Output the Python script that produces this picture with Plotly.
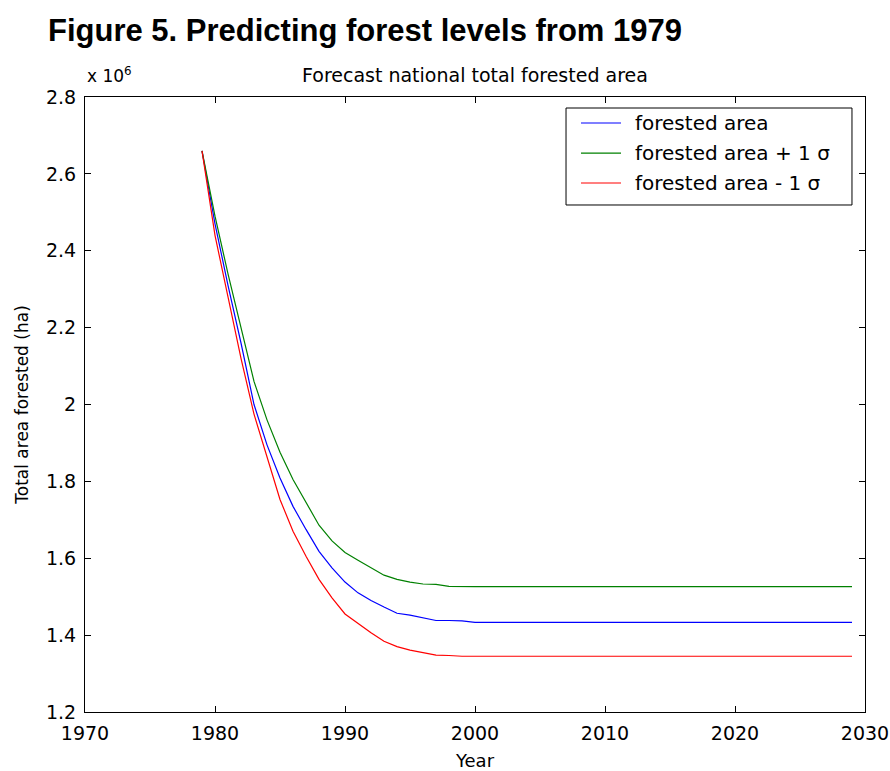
import plotly.graph_objects as go

years = list(range(1979, 2030))

# forested area, in units of 10^6 ha
forested = [2.660, 2.470, 2.310, 2.160, 2.000, 1.895, 1.809, 1.735, 1.675, 1.618,
            1.575, 1.538, 1.510, 1.490, 1.473, 1.457, 1.452, 1.445, 1.438, 1.438,
            1.437, 1.433, 1.433, 1.433, 1.433, 1.433, 1.433, 1.433, 1.433, 1.433,
            1.433, 1.433, 1.433, 1.433, 1.433, 1.433, 1.433, 1.433, 1.433, 1.433,
            1.433, 1.433, 1.433, 1.433, 1.433, 1.433, 1.433, 1.433, 1.433, 1.433,
            1.433]
plus_sigma = [2.660, 2.490, 2.340, 2.200, 2.060, 1.960, 1.876, 1.805, 1.745, 1.686,
              1.645, 1.615, 1.595, 1.575, 1.556, 1.545, 1.538, 1.533, 1.532, 1.527,
              1.526, 1.526, 1.526, 1.526, 1.526, 1.526, 1.526, 1.526, 1.526, 1.526,
              1.526, 1.526, 1.526, 1.526, 1.526, 1.526, 1.526, 1.526, 1.526, 1.526,
              1.526, 1.526, 1.526, 1.526, 1.526, 1.526, 1.526, 1.526, 1.526, 1.526,
              1.526]
minus_sigma = [2.660, 2.440, 2.280, 2.120, 1.975, 1.863, 1.753, 1.670, 1.605, 1.545,
               1.497, 1.455, 1.430, 1.406, 1.384, 1.370, 1.361, 1.354, 1.348, 1.347,
               1.345, 1.345, 1.345, 1.345, 1.345, 1.345, 1.345, 1.345, 1.345, 1.345,
               1.345, 1.345, 1.345, 1.345, 1.345, 1.345, 1.345, 1.345, 1.345, 1.345,
               1.345, 1.345, 1.345, 1.345, 1.345, 1.345, 1.345, 1.345, 1.345, 1.345,
               1.345]

series_names = ["forested area", "forested area + 1 σ", "forested area - 1 σ"]
series_values = [forested, plus_sigma, minus_sigma]
series_colors = ["#0000FF", "#008000", "#FF0000"]

FONT = "DejaVu Sans"

fig = go.Figure()
for name, vals, col in zip(series_names, series_values, series_colors):
    fig.add_trace(go.Scatter(x=years, y=vals, mode="lines", name=name,
                             line=dict(color=col, width=1.2), showlegend=False))

axis_common = dict(showline=True, linecolor="black", linewidth=1, mirror="ticks",
                   ticks="inside", ticklen=6, tickcolor="black", showgrid=False,
                   zeroline=False, ticklabelstandoff=4,
                   tickfont=dict(family=FONT, size=19, color="black"))

fig.update_xaxes(range=[1970, 2030], dtick=10, tick0=1970,
                 title=dict(text="Year", font=dict(family=FONT, size=18, color="black"),
                            standoff=12),
                 **axis_common)
fig.update_yaxes(range=[1.2, 2.8], dtick=0.2, tick0=1.2,
                 title=dict(text="Total area forested (ha)",
                            font=dict(family=FONT, size=17, color="black"), standoff=13),
                 **axis_common)

# legend box drawn in paper coordinates (MATLAB-style legend)
leg_x0, leg_x1, leg_y0, leg_y1 = 0.6167, 0.9833, 0.8244, 0.9821
leg_rows = [0.9577, 0.9089, 0.8602]
seg_x0, seg_x1, txt_x = 0.6359, 0.6872, 0.7026

shapes = [dict(type="rect", xref="paper", yref="paper", x0=leg_x0, x1=leg_x1,
               y0=leg_y0, y1=leg_y1, line=dict(color="black", width=1),
               fillcolor="white", layer="above")]
annotations = [
    dict(text="Forecast national total forested area", xref="paper", yref="paper",
         x=0.5, y=1.0358, xanchor="center", yanchor="middle", showarrow=False,
         font=dict(family=FONT, size=19, color="black")),
    dict(text="x 10<sup>6</sup>", xref="paper", yref="paper",
         x=0.0, y=1.0358, xanchor="left", yanchor="middle", showarrow=False,
         font=dict(family=FONT, size=17, color="black")),
]
for name, col, ry in zip(series_names, series_colors, leg_rows):
    shapes.append(dict(type="line", xref="paper", yref="paper", x0=seg_x0, x1=seg_x1,
                       y0=ry, y1=ry, line=dict(color=col, width=1.2), layer="above"))
    annotations.append(dict(text=name, xref="paper", yref="paper", x=txt_x, y=ry,
                            xanchor="left", yanchor="middle", showarrow=False,
                            font=dict(family=FONT, size=20, color="black")))

fig.update_layout(
    width=890, height=771,
    margin=dict(l=85, r=25, t=97, b=59, autoexpand=False),
    paper_bgcolor="white", plot_bgcolor="white",
    title=dict(text="<b>Figure 5. Predicting forest levels from 1979</b>",
               font=dict(family="Liberation Sans", size=31, color="black"),
               xref="container", x=48 / 890, xanchor="left",
               yref="container", y=1 - 30 / 771, yanchor="middle"),
    showlegend=False,
    shapes=shapes,
    annotations=annotations,
)

fig.write_html("out.html")
